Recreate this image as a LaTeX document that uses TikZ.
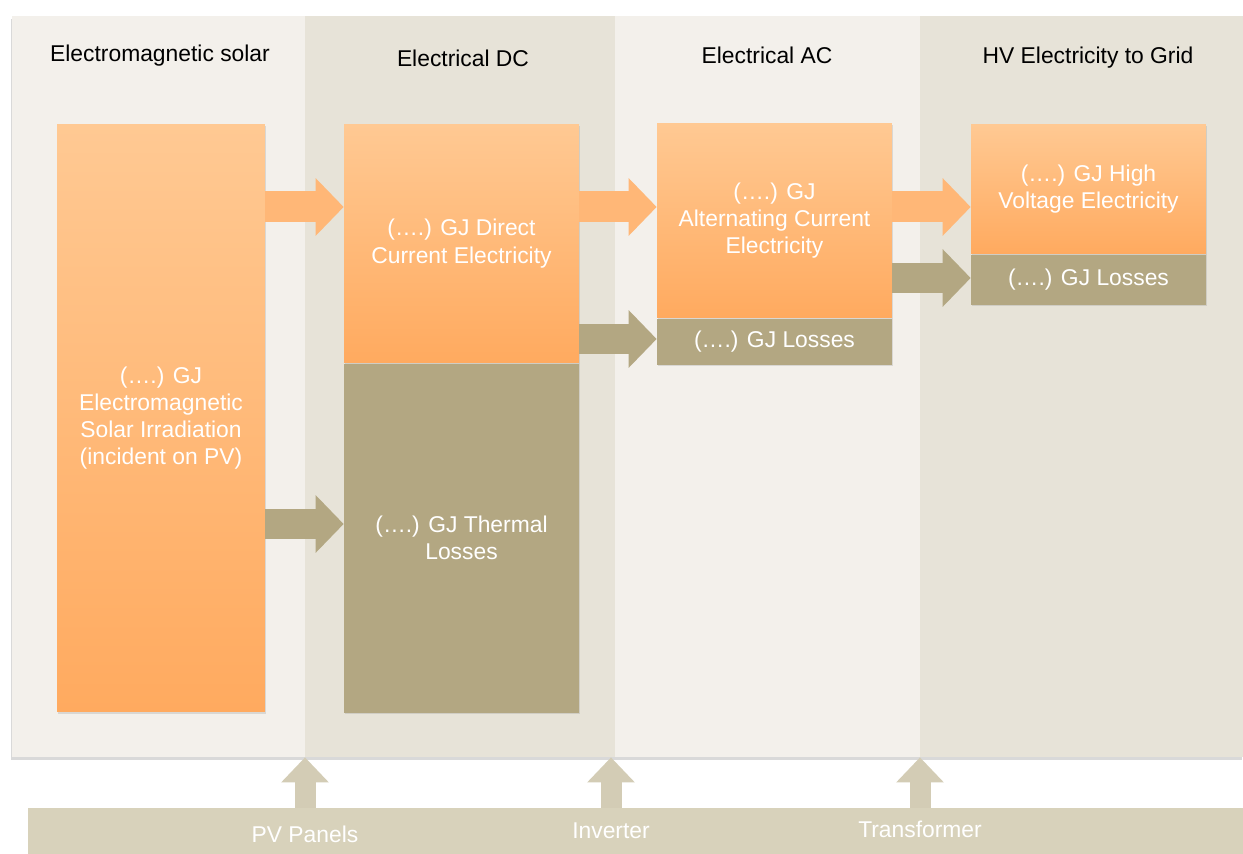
\documentclass[tikz,border=0pt]{standalone}
\usepackage{fontspec}
\setmainfont{Liberation Sans}
\usepackage{tikz}
\usetikzlibrary{positioning,arrows.meta,calc,fit,shadows}
\definecolor{claro}{HTML}{F3F0EB}
\definecolor{escuro}{HTML}{E7E3D8}
\definecolor{laranjaA}{HTML}{FFC993}
\definecolor{laranjaB}{HTML}{FFAA5F}
\definecolor{laranja}{HTML}{FFB777}
\definecolor{oliva}{HTML}{B3A782}
\definecolor{barra}{HTML}{D8D2BB}
\definecolor{bege}{HTML}{D3CCB5}

\begin{document}
\begin{tikzpicture}[x=0.02cm,y=-0.02cm,font=\fontsize{13}{15.5}\selectfont,
  sombra/.style={drop shadow={shadow xshift=0.8pt,shadow yshift=-1pt,opacity=0.22}},
  caixa/.style={inner sep=0pt,text=white,align=center,minimum width=4.7cm,top color=laranjaA,bottom color=laranjaB,sombra},
  perda/.style={inner sep=0pt,text=white,align=center,minimum width=4.7cm,fill=oliva,sombra},
  seta/.style={line width=0.62cm,-{Triangle[length=0.56cm,width=1.12cm]}},
  setacima/.style={bege,line width=0.42cm,-{Triangle[length=0.5cm,width=0.92cm]}}]
\useasboundingbox (0,0) rectangle (1243,854);
% painel de fundo
\node[fill=claro,inner sep=0pt,fit={(12,16) (1243,757)},drop shadow={shadow xshift=-0.5pt,shadow yshift=-1.5pt,opacity=0.3}] (painel) {};
\foreach \xa/\xb/\cor in {12/305/claro,305/615/escuro,615/920/claro,920/1243/escuro}
  \fill[\cor] (\xa,16) rectangle (\xb,757);
\foreach \x/\y/\lab in {160/56/{Electromagnetic solar},463/58/{Electrical DC},767/55/{Electrical AC},1088/58/{HV Electricity to Grid}}
  \node at (\x,\y) {\lab};
% caixas
\node[caixa,minimum width=4.16cm,minimum height=11.76cm] (solar) at (161,418) {(….) GJ\\Electromagnetic\\Solar Irradiation\\(incident on PV)};
\node[caixa,minimum height=4.78cm] (dc) at (461.5,243.5) {(….) GJ Direct\\Current Electricity};
\node[perda,minimum height=6.98cm,below=0pt of dc] (termica) {(….) GJ Thermal\\Losses};
\node[caixa,minimum height=3.9cm] (ac) at (774.5,220.5) {(….) GJ\\Alternating Current\\Electricity};
\node[perda,minimum height=0.92cm,below=0pt of ac] (acperda) {(….) GJ Losses};
\node[caixa,minimum height=2.6cm] (hv) at (1088.5,189) {(….) GJ High\\Voltage Electricity};
\node[perda,minimum height=1cm,below=0pt of hv] (hvperda) {(….) GJ Losses};
% setas
\draw[seta,laranja] (solar.east |- 0,207) -- (dc.west |- 0,207);
\draw[seta,oliva] (solar.east |- 0,524) -- (termica.west |- 0,524);
\draw[seta,laranja] (dc.east |- 0,207) -- (ac.west |- 0,207);
\draw[seta,oliva] (dc.east |- 0,339) -- (acperda.west |- 0,339);
\draw[seta,laranja] (ac.east |- 0,207) -- (hv.west |- 0,207);
\draw[seta,oliva] (ac.east |- 0,278) -- (hvperda.west |- 0,278);
% barra de equipamentos
\node[fill=barra,inner sep=0pt,fit={(28,808) (1243,854)}] (bar) {};
\node[text=white] (pv) at (305,834) {PV Panels};
\node[text=white] (inv) at (611,831) {Inverter};
\node[text=white] (tr) at (920,829) {Transformer};
\foreach \e in {pv,inv,tr}
  \draw[setacima] (\e |- bar.north) -- (\e |- painel.south);
\end{tikzpicture}
\end{document}
